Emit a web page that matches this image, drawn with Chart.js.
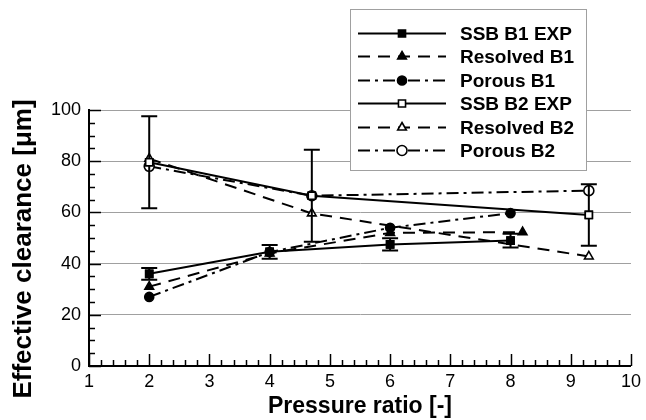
<!DOCTYPE html>
<html><head><meta charset="utf-8">
<script src="https://cdn.jsdelivr.net/npm/chart.js@4/dist/chart.umd.min.js"></script>
<style>html,body{margin:0;padding:0;background:#fff}#wrap{width:646px;height:420px;position:relative}</style>
</head><body><div id="wrap"><canvas id="c"></canvas></div>
<script>
// ---- data ----
const seriesNames = ["SSB B1 EXP","Resolved B1","Porous B1","SSB B2 EXP","Resolved B2","Porous B2"];
const ssbB1X = [2, 4, 6, 8];
const ssbB1Y = [36, 44.6, 47.5, 49];
const ssbB1Err = [2.3, 2.7, 2.4, 2.7];
const resolvedB1X = [2, 4, 6, 8.2];
const resolvedB1Y = [31, 44, 52, 52.3];
const porousB1X = [2, 4, 6, 8];
const porousB1Y = [27, 44.5, 54, 59.7];
const ssbB2X = [2, 4.7, 9.3];
const ssbB2Y = [79.6, 66.5, 59];
const ssbB2Err = [18, 18, 12];
const resolvedB2X = [2, 4.7, 9.3];
const resolvedB2Y = [81, 59.6, 42.8];
const porousB2X = [2, 4.7, 9.3];
const porousB2Y = [78, 66.5, 68.5];
const xTickValues = [1,2,3,4,5,6,7,8,9,10];
const yTickValues = [0,20,40,60,80,100];
const xTitle = "Pressure ratio [-]";
const yTitle = "Effective clearance [\u03bcm]";

const FONT = "'Liberation Sans', Arial, Helvetica, sans-serif";
const DASHED = [12, 8];
const DASHDOT = [12, 5, 3, 5];

function pts(xs, ys){ return xs.map((x,i)=>({x:x, y:ys[i]})); }

function ds(label, xs, ys, dash, style, filled, radius, err){
  return {
    label: label, data: pts(xs, ys), showLine: true,
    borderColor: '#000', borderWidth: 2, borderDash: dash,
    pointStyle: style, pointRadius: radius, pointHoverRadius: radius,
    pointBackgroundColor: filled ? '#000' : '#fff',
    pointBorderColor: '#000', pointBorderWidth: 1.6,
    errors: err || null
  };
}

const datasets = [
  ds(seriesNames[0], ssbB1X, ssbB1Y, [], 'rect', true, 5, ssbB1Err),
  ds(seriesNames[1], resolvedB1X, resolvedB1Y, DASHED, 'triangle', true, 5),
  ds(seriesNames[2], porousB1X, porousB1Y, DASHDOT, 'circle', true, 4.5),
  ds(seriesNames[3], ssbB2X, ssbB2Y, [], 'rect', false, 5, ssbB2Err),
  ds(seriesNames[4], resolvedB2X, resolvedB2Y, DASHED, 'triangle', false, 5),
  ds(seriesNames[5], porousB2X, porousB2Y, DASHDOT, 'circle', false, 5)
];

function drawMarker(ctx, d, x, y){
  const r = d.pointRadius;
  ctx.save();
  ctx.setLineDash([]);
  ctx.lineWidth = d.pointBorderWidth;
  ctx.strokeStyle = d.pointBorderColor;
  ctx.fillStyle = d.pointBackgroundColor;
  ctx.beginPath();
  if (d.pointStyle === 'rect') {
    const s = r * Math.SQRT1_2;
    ctx.rect(x - s, y - s, 2*s, 2*s);
  } else if (d.pointStyle === 'triangle') {
    ctx.moveTo(x, y - r);
    ctx.lineTo(x + r*0.866, y + r*0.5);
    ctx.lineTo(x - r*0.866, y + r*0.5);
    ctx.closePath();
  } else {
    ctx.arc(x, y, r, 0, Math.PI*2);
  }
  ctx.fill(); ctx.stroke();
  ctx.restore();
}

const axisPlugin = {
  id: 'axisDeco',
  beforeDatasetsDraw(chart){
    const ctx = chart.ctx, xs = chart.scales.x, ys = chart.scales.y;
    const a = chart.chartArea;
    ctx.save();
    ctx.strokeStyle = '#000'; ctx.lineWidth = 1.5;
    for (let v = 1; v <= 10.0001; v += 0.2) {
      const major = Math.abs(v - Math.round(v)) < 1e-6;
      const px = Math.round(xs.getPixelForValue(v)) + 0.5;
      ctx.beginPath(); ctx.moveTo(px, a.bottom); ctx.lineTo(px, a.bottom - (major ? 12 : 6)); ctx.stroke();
    }
    for (let v = 0; v <= 100.0001; v += 5) {
      const major = (Math.round(v) % 20) === 0;
      const py = Math.round(ys.getPixelForValue(v)) + 0.5;
      ctx.beginPath(); ctx.moveTo(a.left, py); ctx.lineTo(a.left + (major ? 12 : 6), py); ctx.stroke();
    }
    ctx.restore();
  },
  afterDatasetsDraw(chart){
    const ctx = chart.ctx, xs = chart.scales.x, ys = chart.scales.y;
    ctx.save();
    ctx.strokeStyle = '#000'; ctx.lineWidth = 2; ctx.setLineDash([]);
    chart.data.datasets.forEach(d => {
      if (!d.errors) return;
      d.data.forEach((p, i) => {
        const e = d.errors[i];
        const px = xs.getPixelForValue(p.x);
        const top = ys.getPixelForValue(p.y + e), bot = ys.getPixelForValue(p.y - e);
        ctx.beginPath();
        ctx.moveTo(px, top); ctx.lineTo(px, bot);
        ctx.moveTo(px - 8, top); ctx.lineTo(px + 8, top);
        ctx.moveTo(px - 8, bot); ctx.lineTo(px + 8, bot);
        ctx.stroke();
      });
      d.data.forEach(p => drawMarker(ctx, d, xs.getPixelForValue(p.x), ys.getPixelForValue(p.y)));
    });
    ctx.restore();
  },
  afterDraw(chart){
    const ctx = chart.ctx;
    ctx.save();
    // y axis title
    ctx.save();
    ctx.translate(24, 249);
    ctx.rotate(-Math.PI / 2);
    ctx.fillStyle = '#000';
    ctx.font = 'bold 26px ' + FONT;
    ctx.textAlign = 'center'; ctx.textBaseline = 'middle';
    ctx.fillText(yTitle, 0, 0);
    ctx.restore();
    // legend box
    const bx = 350, by = 9, bw = 236, bh = 161;
    ctx.fillStyle = '#fff'; ctx.fillRect(bx, by, bw, bh);
    ctx.strokeStyle = '#a0a0a0'; ctx.lineWidth = 1; ctx.strokeRect(bx + 0.5, by + 0.5, bw, bh);
    const rowY0 = 33, rowH = 23.4;
    chart.data.datasets.forEach((d, i) => {
      const y = Math.round(rowY0 + i * rowH) + 0.5;
      ctx.save();
      ctx.strokeStyle = '#000'; ctx.lineWidth = 2; ctx.setLineDash(d.borderDash);
      ctx.beginPath(); ctx.moveTo(358, y); ctx.lineTo(446, y); ctx.stroke();
      ctx.restore();
      drawMarker(ctx, d, 402, y);
      ctx.fillStyle = '#000';
      ctx.font = 'bold 19px ' + FONT;
      ctx.textBaseline = 'middle'; ctx.textAlign = 'left';
      ctx.fillText(d.label, 460, y + 1);
    });
    ctx.restore();
  }
};

new Chart(document.getElementById('c'), {
  type: 'scatter',
  data: { datasets: datasets },
  options: {
    responsive: true, maintainAspectRatio: false, animation: false,
    events: [],
    layout: { padding: { top: 110, right: 15, left: 0, bottom: 0 } },
    plugins: { legend: { display: false }, tooltip: { enabled: false } },
    scales: {
      x: {
        type: 'linear', min: 1, max: 10,
        afterFit(s){ s.height = 54; },
        afterBuildTicks(s){ s.ticks = xTickValues.map(v => ({value: v})); },
        grid: { display: false, drawTicks: false },
        border: { display: true, color: '#000', width: 2 },
        ticks: { color: '#000', padding: 5, font: { family: FONT, size: 18 }, maxRotation: 0 },
        title: { display: true, text: xTitle, color: '#000', padding: { top: 0, bottom: 0 }, font: { family: FONT, size: 23, weight: 'bold' } }
      },
      y: {
        type: 'linear', min: 0, max: 100,
        afterFit(s){ s.width = 89; },
        afterBuildTicks(s){ s.ticks = yTickValues.map(v => ({value: v})); },
        grid: { display: true, drawTicks: false, color: '#a0a0a0', lineWidth: 1 },
        border: { display: true, color: '#000', width: 2 },
        ticks: { color: '#000', padding: 8, font: { family: FONT, size: 18 } },
        title: { display: false }
      }
    }
  },
  plugins: [axisPlugin]
});
</script>
</body></html>
